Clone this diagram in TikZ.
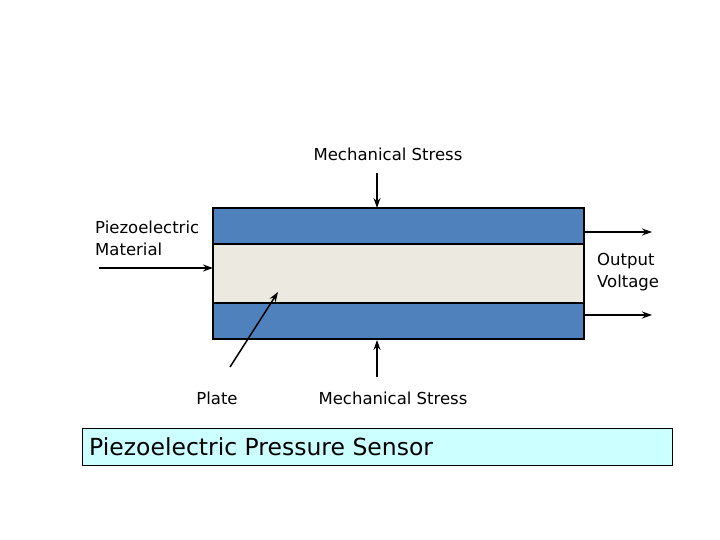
\documentclass[tikz,border=0pt]{standalone}
\usepackage{fontspec}
\setmainfont{DejaVu Sans}
\usetikzlibrary{arrows.meta}
\definecolor{layerblue}{HTML}{4F81BD}
\definecolor{layercream}{HTML}{ECE9E0}
\definecolor{boxcyan}{HTML}{CCFFFF}
\begin{document}
\begin{tikzpicture}[x=1pt,y=-1pt,
  lbl/.style={font=\fontsize{16.5}{22}\selectfont, inner sep=0pt, align=left},
  arr/.style={line width=1.5pt, -{Stealth[length=10pt,width=7pt]}},
  layer/.style={draw=black, line width=1.8pt}]
\useasboundingbox (0,0) rectangle (720,540);
% layers
\path[layer, fill=layerblue] (213,208) rectangle (584,244);
\path[layer, fill=layercream] (213,244) rectangle (584,303);
\path[layer, fill=layerblue] (213,303) rectangle (584,339);
\coordinate (topin) at (377,208);
\coordinate (botin) at (377,340);
\coordinate (leftin) at (213,268);
\coordinate (plate) at (278,292);
\coordinate (out1s) at (584,232);
\coordinate (out2s) at (584,315);
\coordinate (out1e) at (652,232);
\coordinate (out2e) at (652,315);
% labels
\node[lbl, anchor=base] (mst) at (388,161) {Mechanical Stress};
\node[lbl, anchor=base] (msb) at (393,404) {Mechanical Stress};
\node[lbl, anchor=base west] (pm) at (95,255) {Piezoelectric\\Material};
\node[lbl, anchor=base west] (ov) at (597,287) {Output\\Voltage};
\node[lbl, anchor=base] (pl) at (217,404) {Plate};
\coordinate (topst) at (377,173);
\coordinate (botst) at (377,377);
\coordinate (leftst) at (99,268);
\coordinate (platest) at (230,367);
% arrows
\draw[arr] (topst) -- (topin);
\draw[arr] (botst) -- (botin);
\draw[arr] (leftst) -- (leftin);
\draw[arr] (platest) -- (plate);
\draw[arr] (out1s) -- (out1e);
\draw[arr] (out2s) -- (out2e);
% title box
\node[draw=black, line width=1pt, fill=boxcyan, minimum width=590pt, minimum height=37pt, anchor=north west, inner sep=0pt] (tb) at (82,428) {};
\node[anchor=west, font=\fontsize{23.5}{28}\selectfont, inner sep=0pt] (tt) at (89,447) {Piezoelectric Pressure Sensor};
\end{tikzpicture}
\end{document}
